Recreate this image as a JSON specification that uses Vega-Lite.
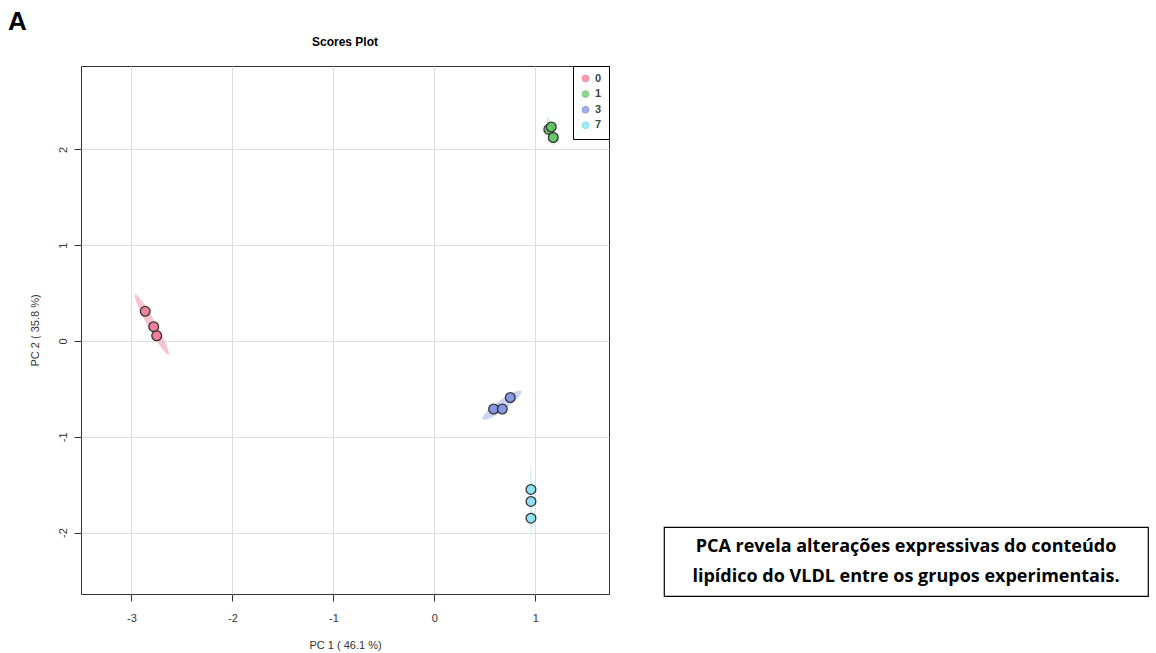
{
  "$schema": "https://vega.github.io/schema/vega-lite/v6.json",
  "background": "white",
  "padding": {"left": 8, "top": 8, "right": 2, "bottom": 0},
  "title": {"text": "A", "anchor": "start", "frame": "group", "fontSize": 26, "fontWeight": "bold", "font": "Liberation Sans", "color": "#000000", "offset": 1, "dx": -73},
  "config": {"font": "Liberation Sans", "view": {"stroke": null}},
  "datasets": {
    "scores": [
      {"group": "0", "PC1": -2.864, "PC2": 0.31},
      {"group": "0", "PC1": -2.78, "PC2": 0.15},
      {"group": "0", "PC1": -2.75, "PC2": 0.055},
      {"group": "1", "PC1": 1.134, "PC2": 2.21},
      {"group": "1", "PC1": 1.158, "PC2": 2.235},
      {"group": "1", "PC1": 1.178, "PC2": 2.125},
      {"group": "3", "PC1": 0.587, "PC2": -0.71},
      {"group": "3", "PC1": 0.673, "PC2": -0.71},
      {"group": "3", "PC1": 0.752, "PC2": -0.59},
      {"group": "7", "PC1": 0.957, "PC2": -1.55},
      {"group": "7", "PC1": 0.957, "PC2": -1.675},
      {"group": "7", "PC1": 0.957, "PC2": -1.85}
    ],
    "note": [
      {"line": 1, "text": "PCA revela alterações expressivas do conteúdo"},
      {"line": 2, "text": "lipídico do VLDL entre os grupos experimentais."}
    ]
  },
  "spacing": 53,
  "hconcat": [
    {
      "width": 528,
      "height": 528,
      "title": {"text": "Scores Plot", "fontSize": 12, "fontWeight": "bold", "color": "#000000", "offset": 17},
      "view": {"stroke": "#333333", "strokeWidth": 1},
      "data": {"name": "scores"},
      "encoding": {
        "x": {
          "field": "PC1", "type": "quantitative",
          "scale": {"domain": [-3.5, 1.73], "nice": false, "zero": false},
          "axis": {"title": "PC 1 ( 46.1 %)", "values": [-3, -2, -1, 0, 1], "labelExpr": "'' + datum.value", "grid": true, "gridColor": "#dddddd", "domain": false,
                   "tickColor": "#333333", "tickSize": 7, "labelFontSize": 11, "labelColor": "#333333", "labelPadding": 11,
                   "titleFontSize": 11, "titleFontWeight": "normal", "titleColor": "#333333", "titlePadding": 16, "labelFlush": false}
        },
        "y": {
          "field": "PC2", "type": "quantitative",
          "scale": {"domain": [-2.642, 2.872], "nice": false, "zero": false},
          "axis": {"title": "PC 2 ( 35.8 %)", "values": [-2, -1, 0, 1, 2], "labelExpr": "'' + datum.value", "grid": true, "gridColor": "#dddddd", "domain": false,
                   "tickColor": "#333333", "tickSize": 7, "labelFontSize": 11, "labelColor": "#333333", "labelPadding": 6,
                   "labelAngle": 270, "labelAlign": "center", "labelBaseline": "bottom",
                   "titleFontSize": 11, "titleFontWeight": "normal", "titleColor": "#333333", "titlePadding": 17, "labelFlush": false}
        }
      },
      "layer": [
        {
          "mark": {"type": "point", "shape": "circle", "filled": false, "size": 40, "strokeWidth": 1.3},
          "encoding": {
            "color": {
              "field": "group", "type": "nominal",
              "scale": {"domain": ["0", "1", "3", "7"], "range": ["#EF5C7C", "#4DB84D", "#6577DB", "#5FD3F2"]},
              "legend": {
                "title": null, "orient": "none", "legendX": 492, "legendY": 0, "padding": 7,
                "strokeColor": "#000000", "fillColor": "#ffffff",
                "symbolType": "circle", "symbolSize": 40, "symbolStrokeWidth": 1.3,
                "labelFontSize": 11, "labelFontWeight": "bold", "labelColor": "#444444", "labelOffset": 4, "rowPadding": 2.6
              }
            }
          }
        },
        {
          "transform": [
            {"filter": "datum.group === '0'"},
            {"aggregate": [{"op": "mean", "field": "PC1", "as": "PC1"}, {"op": "mean", "field": "PC2", "as": "PC2"}], "groupby": ["group"]}
          ],
          "mark": {"type": "point", "filled": true, "fill": "#F6BACA", "fillOpacity": 0.85, "strokeWidth": 0, "size": 4800, "angle": 61,
                   "shape": "M -1 0 C -1 -0.066 -0.552 -0.12 0 -0.12 C 0.552 -0.12 1 -0.066 1 0 C 1 0.066 0.552 0.12 0 0.12 C -0.552 0.12 -1 0.066 -1 0 Z"}
        },
        {
          "transform": [
            {"filter": "datum.group === '1'"},
            {"aggregate": [{"op": "mean", "field": "PC1", "as": "PC1"}, {"op": "mean", "field": "PC2", "as": "PC2"}], "groupby": ["group"]}
          ],
          "mark": {"type": "point", "filled": true, "fill": "#C4E8C4", "fillOpacity": 0.7, "strokeWidth": 0, "size": 900, "angle": 77,
                   "shape": "M -1 0 C -1 -0.083 -0.552 -0.15 0 -0.15 C 0.552 -0.15 1 -0.083 1 0 C 1 0.083 0.552 0.15 0 0.15 C -0.552 0.15 -1 0.083 -1 0 Z"}
        },
        {
          "transform": [
            {"filter": "datum.group === '3'"},
            {"aggregate": [{"op": "mean", "field": "PC1", "as": "PC1"}, {"op": "mean", "field": "PC2", "as": "PC2"}], "groupby": ["group"]}
          ],
          "mark": {"type": "point", "filled": true, "fill": "#C8CFF2", "fillOpacity": 0.9, "strokeWidth": 0, "size": 2304, "angle": -36,
                   "shape": "M -1 0 C -1 -0.116 -0.552 -0.21 0 -0.21 C 0.552 -0.21 1 -0.116 1 0 C 1 0.116 0.552 0.21 0 0.21 C -0.552 0.21 -1 0.116 -1 0 Z"}
        },
        {
          "transform": [
            {"filter": "datum.group === '7'"},
            {"aggregate": [{"op": "mean", "field": "PC1", "as": "PC1"}, {"op": "mean", "field": "PC2", "as": "PC2"}], "groupby": ["group"]}
          ],
          "mark": {"type": "point", "filled": true, "fill": "#C6EEF8", "fillOpacity": 0.9, "strokeWidth": 0, "size": 5776, "angle": 90,
                   "shape": "M -1 0 C -1 -0.014 -0.552 -0.025 0 -0.025 C 0.552 -0.025 1 -0.014 1 0 C 1 0.014 0.552 0.025 0 0.025 C -0.552 0.025 -1 0.014 -1 0 Z"}
        },
        {
          "mark": {"type": "point", "shape": "circle", "filled": true, "size": 95, "fillOpacity": 0.92, "stroke": "#333333", "strokeWidth": 1.3, "strokeOpacity": 1},
          "encoding": {
            "fill": {
              "field": "group", "type": "nominal",
              "scale": {"domain": ["0", "1", "3", "7"], "range": ["#F07A94", "#62C462", "#8292E2", "#8ADFF2"]},
              "legend": null
            }
          }
        }
      ]
    },
    {
      "spacing": 0,
      "vconcat": [
        {
          "width": 484,
          "height": 460,
          "data": {"values": [{}]},
          "mark": {"type": "point", "opacity": 0}
        },
        {
          "width": 484,
          "height": 69,
          "data": {"name": "note"},
          "view": {"stroke": "#000000", "strokeWidth": 1.2},
          "mark": {"type": "text", "font": "Open Sans", "fontWeight": "bold", "fontSize": 18, "color": "#000000", "align": "center", "baseline": "middle"},
          "encoding": {
            "y": {"field": "line", "type": "ordinal", "axis": null, "scale": {"padding": 0.65}},
            "text": {"field": "text"}
          }
        }
      ]
    }
  ]
}
